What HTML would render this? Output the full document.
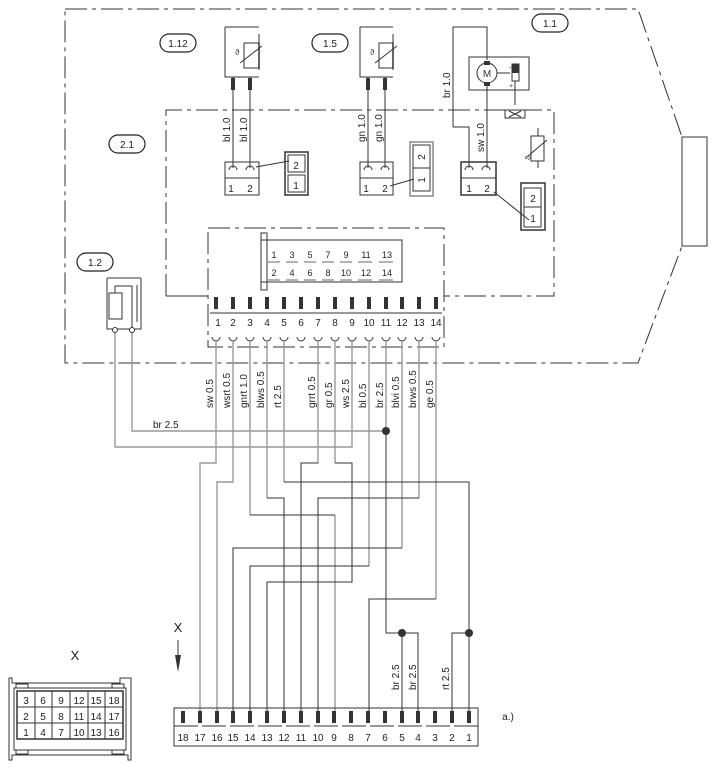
<!DOCTYPE html>
<html><head><meta charset="utf-8"><style>
html,body{margin:0;padding:0;background:#fff;}
svg{display:block;font-family:"Liberation Sans",sans-serif;}
</style></head><body>
<svg width="716" height="769" viewBox="0 0 716 769" xmlns="http://www.w3.org/2000/svg">
<g fill="none" stroke="#333" stroke-width="1">
<!-- outer housing -->
<path d="M65 9 H638 L682 137 V246 L638 363 H65 Z" stroke-dasharray="22 5 4 5"/>
<rect x="682" y="137" width="25" height="109"/>
<!-- 2.1 board -->
<path d="M166 296 V110 H554 V296 H444" stroke-dasharray="22 5 4 5"/>
<path d="M166 296 H208"/>
<!-- top connector box -->
<rect x="208" y="228" width="236" height="119" stroke-dasharray="22 5 4 5"/>
<path d="M261 240 H402 V282 H261 Z M261 233 H267 V290 H261 Z"/>
<path d="M210 313 H442"/>
</g>
<!-- labels ellipses -->
<g fill="none" stroke="#222" stroke-width="1.2">
<rect x="160" y="34" width="36" height="18" rx="9"/>
<rect x="312" y="34" width="36" height="18" rx="9"/>
<rect x="532" y="14" width="36" height="18" rx="9"/>
<rect x="109" y="135" width="36" height="18" rx="9"/>
<rect x="77" y="253" width="36" height="18" rx="9"/>
</g>
<g font-size="10" fill="#222" text-anchor="middle">
<text x="178" y="47">1.12</text><text x="330" y="47">1.5</text><text x="550" y="27">1.1</text>
<text x="127" y="148">2.1</text><text x="95" y="266">1.2</text>
</g>
<!-- top pin bars and numbers -->
<g fill="#333">
<rect x="214" y="297" width="4" height="12"/><rect x="231" y="297" width="4" height="12"/><rect x="248" y="297" width="4" height="12"/><rect x="265" y="297" width="4" height="12"/><rect x="282" y="297" width="4" height="12"/><rect x="299" y="297" width="4" height="12"/><rect x="316" y="297" width="4" height="12"/><rect x="333" y="297" width="4" height="12"/><rect x="350" y="297" width="4" height="12"/><rect x="367" y="297" width="4" height="12"/><rect x="384" y="297" width="4" height="12"/><rect x="400" y="297" width="4" height="12"/><rect x="417" y="297" width="4" height="12"/><rect x="434" y="297" width="4" height="12"/>
</g>
<g font-size="10" fill="#222" text-anchor="middle">
<text x="218" y="326">1</text><text x="233" y="326">2</text><text x="250" y="326">3</text><text x="267" y="326">4</text><text x="284" y="326">5</text><text x="301" y="326">6</text><text x="318" y="326">7</text><text x="335" y="326">8</text><text x="352" y="326">9</text><text x="369" y="326">10</text><text x="386" y="326">11</text><text x="402" y="326">12</text><text x="419" y="326">13</text><text x="436" y="326">14</text>
</g>
<g font-size="9" fill="#222" text-anchor="middle">
<text x="274" y="258">1</text><text x="292" y="258">3</text><text x="310" y="258">5</text><text x="328" y="258">7</text><text x="346" y="258">9</text><text x="366" y="258">11</text><text x="387" y="258">13</text>
<text x="274" y="276">2</text><text x="292" y="276">4</text><text x="310" y="276">6</text><text x="328" y="276">8</text><text x="346" y="276">10</text><text x="366" y="276">12</text><text x="387" y="276">14</text>
</g>
<g stroke="#333" stroke-width="0.8">
<path d="M268 262h12M286 262h12M304 262h12M322 262h12M340 262h12M358 262h14M379 262h14M268 280h12M286 280h12M304 280h12M322 280h12M340 280h12M358 280h14M379 280h14"/>
</g>
<!-- receptacles -->
<g fill="none" stroke="#333" stroke-width="1">
<path d="M212 337a4 4 0 0 0 8 0M229 337a4 4 0 0 0 8 0M246 337a4 4 0 0 0 8 0M263 337a4 4 0 0 0 8 0M280 337a4 4 0 0 0 8 0M297 337a4 4 0 0 0 8 0M314 337a4 4 0 0 0 8 0M331 337a4 4 0 0 0 8 0M348 337a4 4 0 0 0 8 0M365 337a4 4 0 0 0 8 0M382 337a4 4 0 0 0 8 0M398 337a4 4 0 0 0 8 0M415 337a4 4 0 0 0 8 0M432 337a4 4 0 0 0 8 0"/>
</g>
<!-- harness wires -->
<g fill="none" stroke="#999" stroke-width="1.4">
<path d="M216 341V463H200V711"/>
<path d="M233 341V482H217V711"/>
<path d="M250 341V515"/>
<path d="M267 341V498"/>
<path d="M284 341V482"/>
<path d="M318 341V463"/>
<path d="M335 341V463"/>
<path d="M352 341V447H115V330"/>
<path d="M369 341V566"/>
<path d="M386 341V431"/>
<path d="M402 341V548"/>
<path d="M419 341V498"/>
<path d="M436 341V599"/>
<path d="M132 330V431H386"/>
<path d="M335 515V711"/>
</g>
<g fill="none" stroke="#333" stroke-width="1">
<path d="M250 515H335"/>
<path d="M267 498H284V711"/>
<path d="M284 482H469V711"/>
<path d="M318 463H301V711"/>
<path d="M335 463H352V582H267V711"/>
<path d="M369 566H250V711"/>
<path d="M386 431V633H418V711"/>
<path d="M402 633V711"/>
<path d="M402 548H233V711"/>
<path d="M419 498H318V711"/>
<path d="M436 599H369V711"/>
<path d="M469 633H452V711"/>
</g>
<g fill="#333"><circle cx="386" cy="431" r="4"/><circle cx="402" cy="633" r="4"/><circle cx="469" cy="633" r="4"/></g>
<!-- wire labels -->
<g font-size="10" fill="#222">
<text transform="translate(213 408) rotate(-90)">sw 0.5</text>
<text transform="translate(230 408) rotate(-90)">wsrt 0.5</text>
<text transform="translate(247 408) rotate(-90)">gnrt 1.0</text>
<text transform="translate(264 408) rotate(-90)">blws 0.5</text>
<text transform="translate(281 408) rotate(-90)">rt 2.5</text>
<text transform="translate(315 408) rotate(-90)">grrt 0.5</text>
<text transform="translate(332 408) rotate(-90)">gr 0.5</text>
<text transform="translate(349 408) rotate(-90)">ws 2.5</text>
<text transform="translate(366 408) rotate(-90)">bl 0.5</text>
<text transform="translate(383 408) rotate(-90)">br 2.5</text>
<text transform="translate(399 408) rotate(-90)">blvi 0.5</text>
<text transform="translate(416 408) rotate(-90)">brws 0.5</text>
<text transform="translate(433 408) rotate(-90)">ge 0.5</text>
<text x="153" y="428">br 2.5</text>
<text transform="translate(399 690) rotate(-90)">br 2.5</text>
<text transform="translate(416 690) rotate(-90)">br 2.5</text>
<text transform="translate(449 690) rotate(-90)">rt 2.5</text>
<text transform="translate(230 142) rotate(-90)">bl 1.0</text>
<text transform="translate(247 142) rotate(-90)">bl 1.0</text>
<text transform="translate(365 142) rotate(-90)">gn 1.0</text>
<text transform="translate(382 142) rotate(-90)">gn 1.0</text>
<text transform="translate(450 98) rotate(-90)">br 1.0</text>
<text transform="translate(484 152) rotate(-90)">sw 1.0</text>
</g>
<!-- sensors 1.12 and 1.5 -->
<g fill="none" stroke="#333" stroke-width="1">
<path d="M225 27V77H259M225 27H259" /><path d="M259 34V70" stroke="#999" stroke-width="2"/>
<rect x="244" y="43" width="15" height="25"/><path d="M240 63L262 46"/>
<path d="M360 27V77H393M360 27H393"/><path d="M393 34V70" stroke="#999" stroke-width="2"/>
<rect x="379" y="43" width="14" height="25"/><path d="M375 63L397 46"/>
<path d="M233 77V168M250 77V168M368 77V168M385 77V168"/>
<path d="M453 127V27H487V60M487 84V168M453 127H469V168"/>
</g>
<g fill="#333"><rect x="231" y="78" width="4" height="12"/><rect x="248" y="78" width="4" height="12"/><rect x="366" y="78" width="4" height="12"/><rect x="383" y="78" width="4" height="12"/></g>
<g font-size="8" fill="#333"><text x="235" y="55">ϑ</text><text x="370" y="55">ϑ</text><text x="523" y="160" transform="rotate(-90 527 156)">ϑ</text></g>
<!-- connector blocks -->
<g fill="none" stroke="#333" stroke-width="1">
<rect x="225" y="162" width="34" height="33"/><path d="M225 178H259"/>
<rect x="360" y="162" width="33" height="33"/><path d="M360 178H393"/>
<rect x="461" y="162" width="35" height="33" stroke-width="1.5"/><path d="M461 178H496"/>
<path d="M229 170a4 4 0 0 1 8 0M246 170a4 4 0 0 1 8 0M364 170a4 4 0 0 1 8 0M381 170a4 4 0 0 1 8 0M465 170a4 4 0 0 1 8 0M482 170a4 4 0 0 1 8 0"/>
<rect x="285" y="152" width="23" height="43" stroke-width="1.5"/><rect x="288" y="155" width="17" height="17"/><rect x="288" y="175" width="17" height="17"/>
<rect x="410" y="142" width="23" height="54" stroke-width="1.5" stroke="#888"/><rect x="413" y="145" width="17" height="23"/><rect x="413" y="168" width="17" height="23"/>
<rect x="521" y="183" width="24" height="47" stroke-width="1.5"/><rect x="524" y="188" width="17" height="19"/><rect x="524" y="207" width="17" height="20"/>
<path d="M256 167L289 161M390 186L414 179M494 192L529 220"/>
<!-- motor -->
<rect x="469" y="57" width="60" height="33"/>
<circle cx="487" cy="73" r="10"/>
<rect x="512" y="64" width="7" height="17"/><path d="M497 73H510M515 81V105"/>
<rect x="505" y="110" width="20" height="8"/><path d="M509 111L521 117M521 111L509 117"/>
<rect x="531" y="136" width="13" height="25"/><path d="M538 128V136M538 161V168M528 156L547 140"/>
<!-- 1.2 -->
<path d="M107 278H141M107 278V329H141V278M141 285V322M137 285V322" />
<rect x="109" y="293" width="13" height="26"/><path d="M115 293V286H132V330"/>
<circle cx="115" cy="330" r="2.5" fill="#fff"/><circle cx="132" cy="330" r="2.5" fill="#fff"/>
</g>
<g fill="#333"><rect x="484" y="61" width="6" height="4"/><rect x="484" y="82" width="6" height="4"/><rect x="512" y="64" width="7" height="9"/><text x="487" y="77" font-size="10" text-anchor="middle">M</text><text x="509" y="70" font-size="7">-</text><text x="509" y="88" font-size="7">+</text></g>
<g font-size="10" fill="#222" text-anchor="middle">
<text x="231" y="192">1</text><text x="250" y="192">2</text><text x="296" y="169">2</text><text x="296" y="189">1</text>
<text x="366" y="192">1</text><text x="385" y="192">2</text>
<text x="469" y="192">1</text><text x="487" y="192">2</text><text x="533" y="202">2</text><text x="533" y="222">1</text>
<text transform="translate(425 157) rotate(-90)">2</text><text transform="translate(425 180) rotate(-90)">1</text>
</g>
<!-- bottom connector -->
<g fill="none" stroke="#333" stroke-width="1">
<rect x="174" y="708" width="304" height="38"/>
<path d="M174 726H478" stroke-dasharray="24 4"/>
<path d="M178 620 M178 640V668"/>
</g>
<path d="M175 655L178 672L181 655Z" fill="#333"/>
<g fill="#333">
<rect x="181" y="711" width="4" height="12"/><rect x="198" y="711" width="4" height="12"/><rect x="215" y="711" width="4" height="12"/><rect x="231" y="711" width="4" height="12"/><rect x="248" y="711" width="4" height="12"/><rect x="265" y="711" width="4" height="12"/><rect x="282" y="711" width="4" height="12"/><rect x="299" y="711" width="4" height="12"/><rect x="316" y="711" width="4" height="12"/><rect x="332" y="711" width="4" height="12"/><rect x="349" y="711" width="4" height="12"/><rect x="366" y="711" width="4" height="12"/><rect x="383" y="711" width="4" height="12"/><rect x="400" y="711" width="4" height="12"/><rect x="416" y="711" width="4" height="12"/><rect x="433" y="711" width="4" height="12"/><rect x="450" y="711" width="4" height="12"/><rect x="467" y="711" width="4" height="12"/>
</g>
<g font-size="10" fill="#222" text-anchor="middle">
<text x="183" y="741">18</text><text x="200" y="741">17</text><text x="217" y="741">16</text><text x="233" y="741">15</text><text x="250" y="741">14</text><text x="267" y="741">13</text><text x="284" y="741">12</text><text x="301" y="741">11</text><text x="318" y="741">10</text><text x="334" y="741">9</text><text x="351" y="741">8</text><text x="368" y="741">7</text><text x="385" y="741">6</text><text x="402" y="741">5</text><text x="418" y="741">4</text><text x="435" y="741">3</text><text x="452" y="741">2</text><text x="469" y="741">1</text>
<text x="178" y="632" font-size="13">X</text><text x="75" y="660" font-size="13">X</text>
<text x="508" y="720">a.)</text>
</g>
<!-- X connector face -->
<g fill="none" stroke="#333" stroke-width="1">
<path d="M9 688V678H12V683H120V678H131V688V750V760H128V755H12V760H9Z"/>
<rect x="14" y="688" width="112" height="62"/>
<rect x="17" y="691" width="106" height="48" stroke-width="1.5"/>
<path d="M17 707H123M17 723H123M35 691V739M52 691V739M70 691V739M88 691V739M105 691V739"/>
<rect x="16" y="684" width="12" height="4"/><rect x="112" y="684" width="12" height="4"/><rect x="16" y="750" width="12" height="4"/><rect x="112" y="750" width="12" height="4"/>
</g>
<g font-size="10" fill="#222" text-anchor="middle">
<text x="26" y="704">3</text><text x="43" y="704">6</text><text x="61" y="704">9</text><text x="79" y="704">12</text><text x="96" y="704">15</text><text x="114" y="704">18</text>
<text x="26" y="720">2</text><text x="43" y="720">5</text><text x="61" y="720">8</text><text x="79" y="720">11</text><text x="96" y="720">14</text><text x="114" y="720">17</text>
<text x="26" y="736">1</text><text x="43" y="736">4</text><text x="61" y="736">7</text><text x="79" y="736">10</text><text x="96" y="736">13</text><text x="114" y="736">16</text>
</g>
</svg>
</body></html>
